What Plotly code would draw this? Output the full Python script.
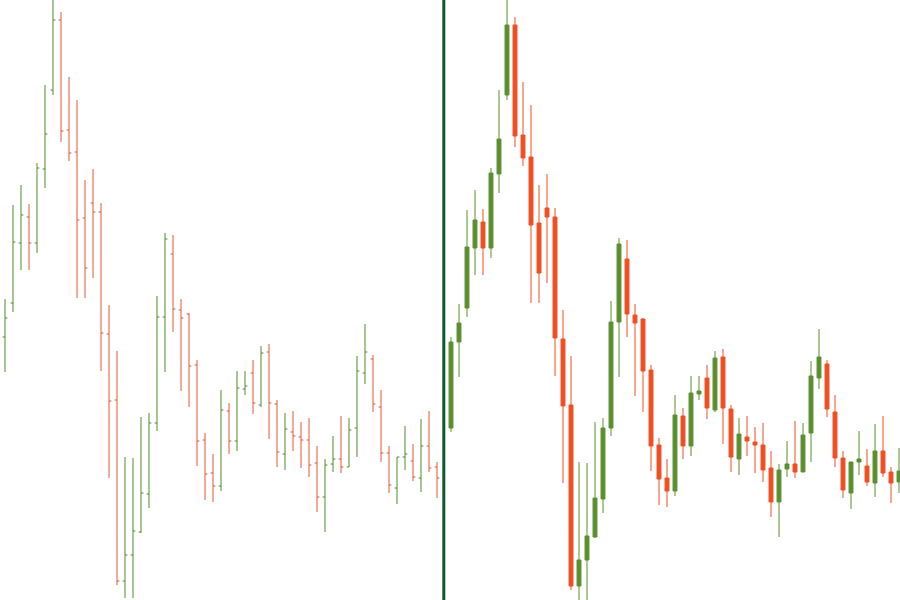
import plotly.graph_objects as go

# index of each trading period
idx = list(range(57))

open_ = [17.2, 25.8, 29.2, 35.2, 37.8, 35.2, 42.6, 50.5, 57.5, 46.5,
         44.3, 37.7, 39.2, 38.3, 26.1, 19.5, 1.4, 4.0, 6.3, 10.1,
         17.2, 27.8, 34.1, 28.5, 28.1, 23.0, 15.5, 12.2, 10.9, 18.4,
         15.4, 20.6, 22.2, 19.0, 24.3, 19.1, 14.1, 16.3, 15.8, 15.5,
         13.2, 9.8, 13.1, 13.6, 12.8, 16.7, 22.2, 23.6, 18.8, 14.2,
         10.7, 13.8, 13.4, 11.7, 14.9, 12.8, 11.8]
high = [26.3, 29.6, 39.0, 41.0, 39.1, 43.2, 51.0, 60.8, 58.3, 51.8,
        49.5, 41.5, 42.6, 39.2, 29.0, 24.4, 13.8, 13.7, 17.8, 18.2,
        29.9, 36.2, 36.0, 29.6, 28.2, 23.5, 16.2, 14.1, 20.5, 19.2,
        22.4, 22.4, 23.5, 24.9, 25.1, 19.5, 18.2, 18.4, 17.3, 17.7,
        14.9, 13.6, 15.9, 17.9, 17.7, 23.9, 27.1, 24.0, 20.5, 14.9,
        13.8, 16.9, 15.1, 17.6, 18.4, 13.3, 15.2]
low = [16.8, 22.3, 28.3, 32.5, 32.5, 34.2, 40.7, 50.0, 45.3, 43.4,
       29.7, 29.7, 31.7, 22.4, 11.7, 1.0, -0.3, -0.3, 6.2, 8.7,
       16.4, 22.3, 26.3, 20.4, 18.8, 12.9, 9.5, 9.3, 10.4, 14.1,
       14.4, 20.0, 18.1, 18.8, 15.6, 12.8, 12.5, 14.4, 12.7, 11.8,
       8.3, 6.3, 12.3, 12.2, 12.8, 13.8, 21.1, 18.3, 13.3, 10.2,
       9.1, 12.5, 11.4, 10.3, 12.3, 9.7, 10.7]
close = [25.8, 27.7, 35.3, 38.0, 35.2, 42.7, 46.1, 57.5, 46.4, 44.2,
         37.5, 32.7, 38.3, 26.2, 19.4, 1.4, 4.0, 6.4, 10.2, 17.2,
         27.8, 35.6, 28.6, 27.7, 22.9, 15.4, 12.1, 10.9, 18.5, 15.4,
         20.7, 20.9, 19.2, 24.2, 19.2, 14.3, 16.6, 15.9, 15.5, 13.0,
         9.8, 13.0, 13.6, 12.8, 16.5, 22.4, 24.3, 19.1, 14.2, 11.0,
         13.8, 14.1, 11.8, 14.9, 12.7, 11.7, 12.9]

GREEN = "#5B8F2F"
RED = "#F04E23"
OHLC_GREEN = "#4F8A2A"
OHLC_RED = "#E2582F"

fig = go.Figure()

fig.add_trace(go.Ohlc(
    x=idx, open=open_, high=high, low=low, close=close,
    xaxis="x", yaxis="y",
    increasing=dict(line=dict(color=OHLC_GREEN, width=1)),
    decreasing=dict(line=dict(color=OHLC_RED, width=1)),
    tickwidth=0.3, showlegend=False, hoverinfo="skip",
))

fig.add_trace(go.Candlestick(
    x=idx, open=open_, high=high, low=low, close=close,
    xaxis="x2", yaxis="y2",
    increasing=dict(line=dict(color=GREEN, width=1), fillcolor=GREEN),
    decreasing=dict(line=dict(color=RED, width=1), fillcolor=RED),
    showlegend=False, hoverinfo="skip",
))

fig.update_layout(
    width=900, height=600,
    margin=dict(l=0, r=0, t=0, b=0),
    paper_bgcolor="white", plot_bgcolor="white",
    showlegend=False,
    xaxis=dict(domain=[0, 443 / 900], range=[0.375, 55.75], visible=False,
               rangeslider=dict(visible=False)),
    yaxis=dict(domain=[0, 1], range=[-0.5, 59.5], visible=False, anchor="x"),
    xaxis2=dict(domain=[445 / 900, 1], range=[-0.75, 56.125], visible=False,
                rangeslider=dict(visible=False)),
    yaxis2=dict(domain=[0, 1], range=[0, 60], visible=False, anchor="x2"),
    shapes=[dict(type="line", xref="paper", yref="paper",
                 x0=443.8 / 900, x1=443.8 / 900, y0=0, y1=1,
                 line=dict(color="#0B5A2A", width=3))],
)

fig.write_html(
    "out.html",
    config={"displayModeBar": False},
    post_script="document.body.style.margin='0';document.body.style.overflow='hidden';",
)
